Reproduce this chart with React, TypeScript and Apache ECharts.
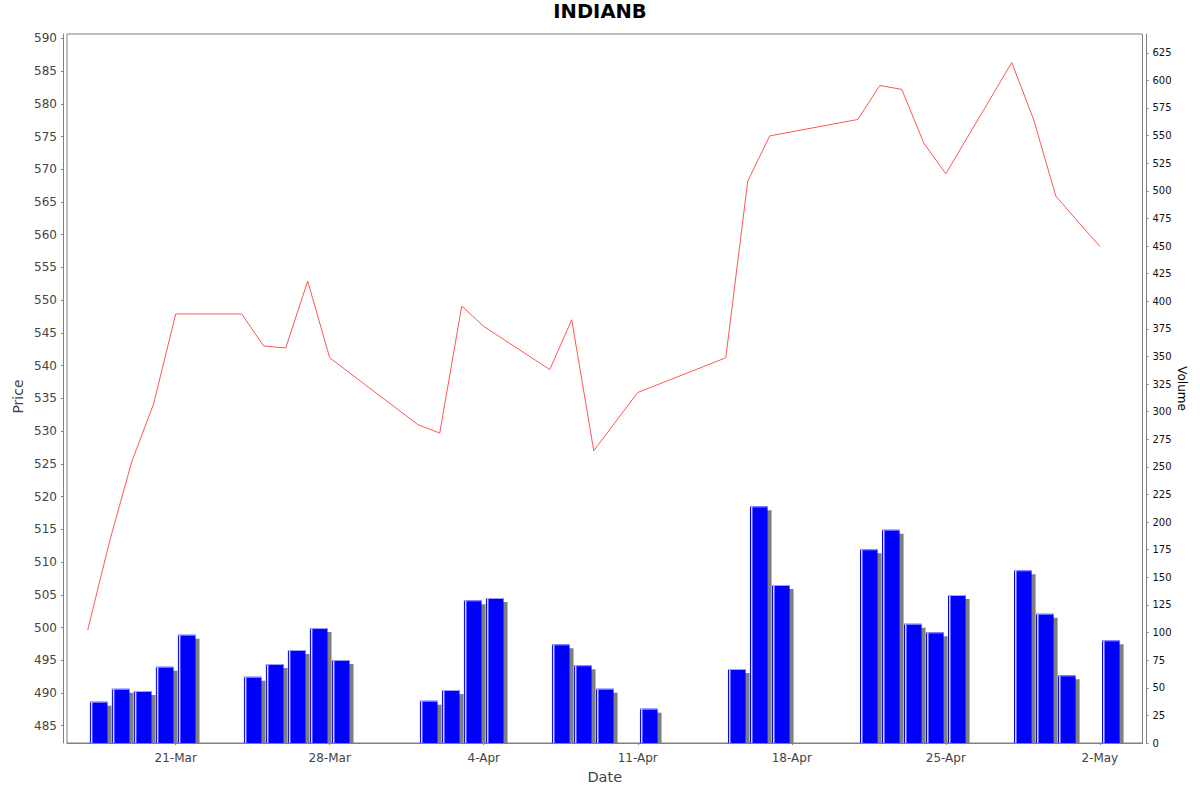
import React, { useEffect, useRef } from 'react'
import * as echarts from 'echarts'

// trading days and values
const dates = [
  '2014-03-17', '2014-03-18', '2014-03-19', '2014-03-20', '2014-03-21',
  '2014-03-24', '2014-03-25', '2014-03-26', '2014-03-27', '2014-03-28',
  '2014-04-01', '2014-04-02', '2014-04-03', '2014-04-04',
  '2014-04-07', '2014-04-08', '2014-04-09', '2014-04-11',
  '2014-04-15', '2014-04-16', '2014-04-17',
  '2014-04-21', '2014-04-22', '2014-04-23', '2014-04-24', '2014-04-25',
  '2014-04-28', '2014-04-29', '2014-04-30', '2014-05-02',
]
const prices = [
  499.6, 513.2, 525.3, 534.2, 547.9,
  547.9, 543.0, 542.7, 552.9, 541.2,
  531.0, 529.7, 549.1, 546.0,
  539.4, 547.0, 527.0, 535.9,
  541.2, 568.2, 575.1,
  577.6, 582.8, 582.2, 574.0, 569.3,
  586.3, 577.5, 565.9, 558.2,
]
const volumes = [
  37.4, 49.2, 47.1, 69.1, 98.1,
  60.0, 71.5, 84.2, 104.1, 75.2,
  38.3, 48.0, 129.2, 131.3,
  89.4, 70.4, 49.2, 31.1,
  67.0, 214.3, 143.1,
  175.4, 193.2, 108.0, 100.2, 134.0,
  156.4, 117.1, 61.3, 93.0,
]
const dateTicks = ['2014-03-21', '2014-03-28', '2014-04-04', '2014-04-11', '2014-04-18', '2014-04-25', '2014-05-02']
const priceTicks = [485, 490, 495, 500, 505, 510, 515, 520, 525, 530, 535, 540, 545, 550, 555, 560, 565, 570, 575, 580, 585, 590]
const volumeTicks = [0, 25, 50, 75, 100, 125, 150, 175, 200, 225, 250, 275, 300, 325, 350, 375, 400, 425, 450, 475, 500, 525, 550, 575, 600, 625]
const months = ['Jan', 'Feb', 'Mar', 'Apr', 'May', 'Jun', 'Jul', 'Aug', 'Sep', 'Oct', 'Nov', 'Dec']

const DAY = 86400000
const day = (s: string) => {
  const [y, m, d] = s.split('-').map(Number)
  return new Date(y, m - 1, d).getTime()
}

const FONT = 'DejaVu Sans'

export default function App(): JSX.Element {
  const ref = useRef<HTMLDivElement>(null)

  useEffect(() => {
    if (!ref.current) return
    const chart = echarts.init(ref.current, undefined, { renderer: 'svg' })

    const xMin = day(dates[0]) - 0.94 * DAY
    const xMax = day(dates[dates.length - 1]) + DAY + 0.94 * DAY

    chart.setOption({
      animation: false,
      backgroundColor: '#ffffff',
      textStyle: { fontFamily: FONT },
      title: {
        text: 'INDIANB',
        left: 'center',
        top: 1,
        padding: 0,
        textStyle: { fontFamily: FONT, fontSize: 19.5, fontWeight: 'bold', color: '#000' },
      },
      grid: {
        left: 67,
        top: 34,
        right: 57.5,
        bottom: 49,
        show: true,
        borderColor: '#808080',
        borderWidth: 1,
        backgroundColor: '#ffffff',
        outerBoundsMode: 'none',
      },
      xAxis: {
        type: 'value',
        min: xMin,
        max: xMax,
        offset: 4,
        axisLine: { show: true, lineStyle: { color: '#808080', width: 1 } },
        axisTick: { show: true, length: 2, customValues: dateTicks.map(day), lineStyle: { color: '#808080' } },
        axisLabel: {
          customValues: dateTicks.map(day),
          margin: 5,
          fontSize: 12,
          color: '#444',
          fontFamily: FONT,
          formatter: (v: number) => {
            const d = new Date(v)
            return `${d.getDate()}-${months[d.getMonth()]}`
          },
        },
        splitLine: { show: false },
        name: 'Date',
        nameLocation: 'middle',
        nameGap: 22,
        nameMoveOverlap: false,
        nameTextStyle: { fontFamily: FONT, fontSize: 14.5, color: '#444' },
      },
      yAxis: [
        {
          type: 'value',
          position: 'left',
          min: 482.36,
          max: 590.66,
          offset: 4,
          axisLine: { show: true, lineStyle: { color: '#808080', width: 1 } },
          axisTick: { show: true, length: 2, customValues: priceTicks, lineStyle: { color: '#808080' } },
          axisLabel: { customValues: priceTicks, margin: 6, fontSize: 12, color: '#444', fontFamily: FONT },
          splitLine: { show: false },
          name: 'Price',
          nameLocation: 'middle',
          nameGap: 38,
          nameRotate: 90,
          nameMoveOverlap: false,
          nameTextStyle: { fontFamily: FONT, fontSize: 14, color: '#444', padding: [0, 16, 0, 0] },
        },
        {
          type: 'value',
          position: 'right',
          min: 0,
          max: 642,
          offset: 4,
          axisLine: { show: true, lineStyle: { color: '#808080', width: 1 } },
          axisTick: { show: true, length: 2, customValues: volumeTicks, lineStyle: { color: '#808080' } },
          axisLabel: { customValues: volumeTicks, margin: 6, fontSize: 10, color: '#111', fontFamily: FONT },
          splitLine: { show: false },
          name: 'Volume',
          nameLocation: 'middle',
          nameGap: 29,
          nameRotate: -90,
          nameMoveOverlap: false,
          nameTextStyle: { fontFamily: FONT, fontSize: 12, color: '#000' },
        },
      ],
      series: [
        {
          name: 'Volume',
          type: 'custom',
          yAxisIndex: 1,
          clip: true,
          z: 1,
          data: dates.map((d, i) => [day(d), volumes[i]]),
          renderItem: (params: any, api: any) => {
            const t = api.value(0)
            const v = api.value(1)
            const p0 = api.coord([t + 0.1 * DAY, v])
            const p1 = api.coord([t + 0.9 * DAY, 0])
            const x = p0[0]
            const y = p0[1]
            const w = p1[0] - p0[0]
            const h = p1[1] - p0[1]
            return {
              type: 'group',
              children: [
                { type: 'rect', shape: { x: x + 4, y: y + 4, width: w, height: h - 4 }, style: { fill: '#808080' } },
                { type: 'rect', shape: { x, y, width: w, height: h }, style: { fill: '#0000ff' } },
                { type: 'rect', shape: { x: x + 1, y, width: 1.5, height: h }, style: { fill: '#ffffff', opacity: 0.85 } },
                { type: 'rect', shape: { x, y, width: w, height: 1 }, style: { fill: '#a0a0ff' } },
              ],
            }
          },
        },
        {
          name: 'Price',
          type: 'line',
          yAxisIndex: 0,
          z: 2,
          showSymbol: false,
          data: dates.map((d, i) => [day(d), prices[i]]),
          lineStyle: { color: '#ff5555', width: 1 },
          itemStyle: { color: '#ff5555' },
        },
      ],
    })

    return () => chart.dispose()
  }, [])

  return <div ref={ref} style={{ position: 'fixed', left: 0, top: 0, width: 1200, height: 792 }} />
}
